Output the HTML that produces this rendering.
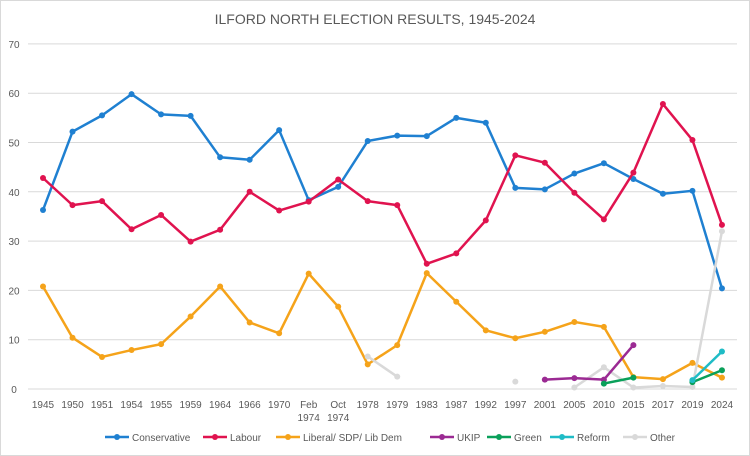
<!DOCTYPE html>
<html><head><meta charset="utf-8"><style>
body{margin:0;background:#fff;}
svg{display:block;font-family:"Liberation Sans",sans-serif;}
</style></head><body>
<svg id="c" width="750" height="456" viewBox="0 0 750 456">
<rect x="0.5" y="0.5" width="749" height="455" fill="#fff" stroke="#d9d9d9"/>
<text x="375" y="24" text-anchor="middle" font-size="14" fill="#595959">ILFORD NORTH ELECTION RESULTS, 1945-2024</text>
</svg>
<script>
var s=document.getElementById('c'),NS='http://www.w3.org/2000/svg';
function el(t,a,txt){var e=document.createElementNS(NS,t);for(var k in a)e.setAttribute(k,a[k]);if(txt!=null)e.textContent=txt;s.appendChild(e);return e;}
function X(i){return 43+i*29.52;}function Y(v){return 389-v*4.93;}
for(var v=0;v<=70;v+=10){el('line',{x1:28,x2:737,y1:Y(v),y2:Y(v),stroke:'#d9d9d9','stroke-width':1});el('text',{x:14,y:Y(v)+4,'font-size':10,fill:'#595959','text-anchor':'middle'},v);}
var yrs=['1945','1950','1951','1954','1955','1959','1964','1966','1970','Feb|1974','Oct|1974','1978','1979','1983','1987','1992','1997','2001','2005','2010','2015','2017','2019','2024'];
yrs.forEach(function(y,i){var p=y.split('|');p.forEach(function(t,j){el('text',{x:X(i),y:408+j*13,'font-size':10,fill:'#595959','text-anchor':'middle'},t);});});
var N=null;
var series=[
['#1f80d1',[36.3,52.2,55.5,59.8,55.7,55.4,47,46.5,52.5,38.3,41,50.3,51.4,51.3,55,54,40.8,40.5,43.7,45.8,42.6,39.6,40.2,20.4]],
['#e0134f',[42.8,37.3,38.1,32.4,35.3,29.9,32.3,40,36.2,38,42.5,38.1,37.3,25.4,27.5,34.2,47.4,45.9,39.8,34.4,43.9,57.8,50.5,33.3]],
['#f5a31a',[20.8,10.4,6.5,7.9,9.1,14.7,20.8,13.5,11.3,23.4,16.7,5,8.9,23.5,17.7,11.9,10.3,11.6,13.6,12.6,2.4,2,5.3,2.3]],
['#d9d9d9',[N,N,N,N,N,N,N,N,N,N,N,6.6,2.5,N,N,N,1.5,N,0.3,4.4,0.3,0.6,0.4,32]],
['#9b2a93',[N,N,N,N,N,N,N,N,N,N,N,N,N,N,N,N,N,1.9,2.2,1.9,8.9,N,N,N]],
['#0aa05a',[N,N,N,N,N,N,N,N,N,N,N,N,N,N,N,N,N,N,N,1.1,2.3,N,1.4,3.8]],
['#1fbcc6',[N,N,N,N,N,N,N,N,N,N,N,N,N,N,N,N,N,N,N,N,N,N,1.8,7.6]]];
series.forEach(function(sr){var c=sr[0],d=sr[1],seg=[];
function flush(){if(seg.length>1)el('polyline',{points:seg.join(' '),fill:'none',stroke:c,'stroke-width':2.5,'stroke-linejoin':'round'});seg=[];}
d.forEach(function(v,i){if(v==null){flush();}else seg.push(X(i)+','+Y(v));});flush();
d.forEach(function(v,i){if(v!=null)el('circle',{cx:X(i),cy:Y(v),r:3,fill:c});});});
var leg=[['Conservative','#1f80d1',105],['Labour','#e0134f',203],['Liberal/ SDP/ Lib Dem','#f5a31a',276],['UKIP','#9b2a93',430],['Green','#0aa05a',487],['Reform','#1fbcc6',550],['Other','#d9d9d9',623]];
leg.forEach(function(l){el('line',{x1:l[2],x2:l[2]+24,y1:437,y2:437,stroke:l[1],'stroke-width':2.5});el('circle',{cx:l[2]+12,cy:437,r:3,fill:l[1]});el('text',{x:l[2]+27,y:441,'font-size':10,fill:'#595959'},l[0]);});
</script>
</body></html>
